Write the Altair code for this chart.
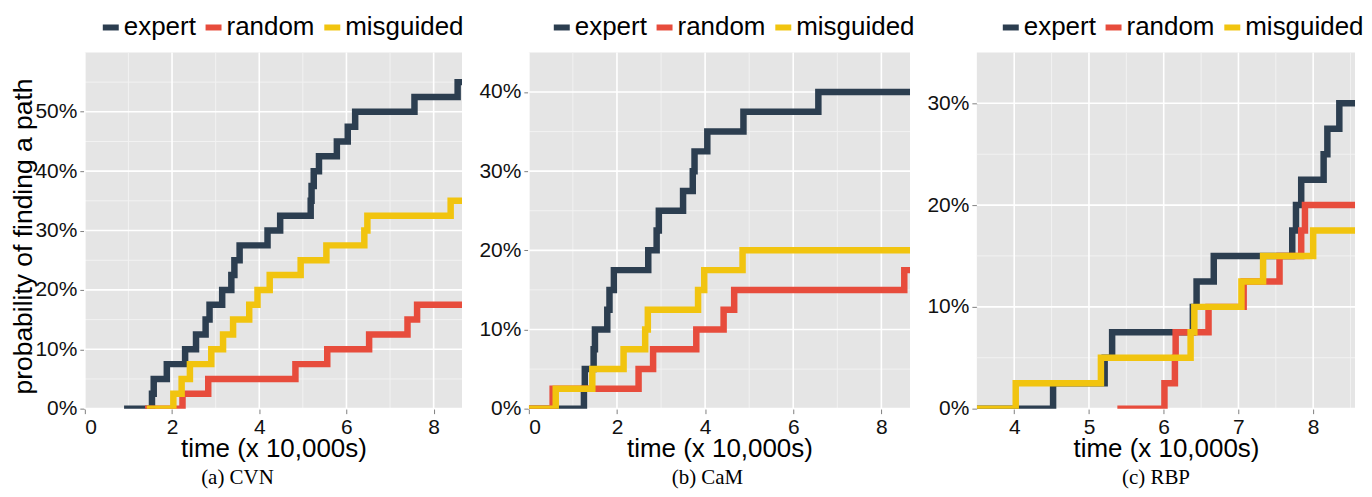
import altair as alt
import pandas as pd

SERIES = ["expert", "random", "misguided"]
COLORS = ["#2C3E50", "#E74C3C", "#F1C40F"]
XTITLE = "time (x 10,000s)"
YTITLE = "probability of finding a path"

# ---- (a) CVN ----
cvn_expert_t = [0.9, 1.54, 1.58, 1.88, 2.30, 2.55, 2.77, 2.86, 3.15, 3.36, 3.43, 3.55, 4.19, 4.48,
                5.18, 5.20, 5.25, 5.37, 5.78, 6.03, 6.20, 7.56, 8.55, 8.7]
cvn_expert_p = [0, 2.5, 5, 7.5, 10, 12.5, 15, 17.5, 20, 22.5, 25, 27.5, 30, 32.5,
                35, 37.5, 40, 42.5, 45, 47.5, 50, 52.5, 55, 55]
cvn_random_t = [1.38, 2.24, 2.83, 4.83, 5.56, 6.52, 7.40, 7.62, 8.7]
cvn_random_p = [0, 2.5, 5, 7.5, 10, 12.5, 15, 17.5, 17.5]
cvn_misguided_t = [1.42, 2.03, 2.22, 2.41, 2.90, 3.17, 3.40, 3.77, 3.96, 4.24, 4.95, 5.54, 6.41, 6.48, 8.39, 8.7]
cvn_misguided_p = [0, 2.5, 5, 7.5, 10, 12.5, 15, 17.5, 20, 22.5, 25, 27.5, 30, 32.5, 35, 35]

# ---- (b) CaM ----
cam_expert_t = [0, 1.25, 1.27, 1.47, 1.50, 1.78, 1.83, 1.93, 2.71, 2.90, 2.95, 3.50, 3.72, 3.76,
                4.05, 4.87, 6.57, 8.7]
cam_expert_p = [0, 2.5, 5, 7.5, 10, 12.5, 15, 17.5, 20, 22.5, 25, 27.5, 30, 32.5, 35, 37.5, 40, 40]
cam_random_t = [0, 0.54, 2.49, 2.82, 3.80, 4.42, 4.66, 8.52, 8.7]
cam_random_p = [0, 2.5, 5, 7.5, 10, 12.5, 15, 17.5, 17.5]
cam_misguided_t = [0, 0.61, 1.44, 2.15, 2.64, 2.70, 3.84, 3.98, 4.85, 8.7]
cam_misguided_p = [0, 2.5, 5, 7.5, 10, 12.5, 15, 17.5, 20, 20]

# ---- (c) RBP ----
rbp_expert_t = [3.5, 4.52, 5.21, 5.31, 6.39, 6.44, 6.67, 7.72, 7.77, 7.84, 8.14, 8.19, 8.35, 8.7]
rbp_expert_p = [0, 2.5, 5, 7.5, 10, 12.5, 15, 17.5, 20, 22.5, 25, 27.5, 30, 30]
rbp_random_t = [5.38, 6.01, 6.15, 6.16, 6.60, 7.07, 7.55, 7.84, 7.89, 8.7]
rbp_random_p = [0, 2.5, 5, 7.5, 10, 12.5, 15, 17.5, 20, 20]
rbp_misguided_t = [3.5, 4.02, 5.16, 6.36, 6.41, 7.04, 7.33, 8.00, 8.7]
rbp_misguided_p = [0, 2.5, 5, 7.5, 10, 12.5, 15, 17.5, 17.5]

FONT = "Liberation Sans"


def make_df(ts, ps):
    rows = []
    for k, (name, t, p) in enumerate(zip(SERIES, ts, ps)):
        for ti, pi in zip(t, p):
            rows.append({"series": name, "k": k, "time": ti, "prob": pi / 100.0})
    return pd.DataFrame(rows)


def panel(df, xdom, ydom, xmajor, xminor, ymajor, yminor, width, height,
          caption, cap_dx, leg_x, ytitle=False):
    xs = alt.Scale(domain=xdom, nice=False, zero=False)
    ys = alt.Scale(domain=ydom, nice=False, zero=False)

    yaxis_kw = dict(
        values=ymajor, format=".0%", grid=False, domain=False,
        labelFont=FONT, labelFontSize=21, labelColor="#111111", labelPadding=3,
        tickColor="#7F7F7F", tickSize=5, tickWidth=1,
    )
    if ytitle:
        yaxis_kw.update(title=YTITLE, titleFont=FONT, titleFontSize=26.5, titleFontWeight="normal",
                        titleColor="#000000", titleX=-53, titleY=184, titleBaseline="alphabetic")
    else:
        yaxis_kw.update(title=None)

    xenc = alt.X("time:Q", scale=xs, axis=alt.Axis(
        values=xmajor, format="d", grid=False, domain=False, title=XTITLE,
        labelFont=FONT, labelFontSize=21, labelColor="#111111", labelPadding=2.5,
        tickColor="#7F7F7F", tickSize=5, tickWidth=1,
        titleFont=FONT, titleFontSize=26, titleFontWeight="normal", titleColor="#000000",
        titleY=47.5, titleBaseline="alphabetic"))
    yenc = alt.Y("prob:Q", scale=ys, axis=alt.Axis(**yaxis_kw))

    def vrule(vals, color, w):
        return alt.Chart(pd.DataFrame({"time": vals})).mark_rule(color=color, strokeWidth=w).encode(
            x=xenc)

    def hrule(vals, color, w):
        return alt.Chart(pd.DataFrame({"prob": vals})).mark_rule(color=color, strokeWidth=w).encode(
            y=yenc)

    lines = alt.Chart(df).mark_line(interpolate="step-after", strokeWidth=6.5, clip=True).encode(
        x=xenc,
        y=yenc,
        color=alt.Color("series:N", scale=alt.Scale(domain=SERIES, range=COLORS),
                        legend=alt.Legend(orient="none", legendX=leg_x, legendY=-38,
                                          direction="horizontal", title=None,
                                          symbolType="stroke", symbolSize=256,
                                          symbolStrokeWidth=6, labelOffset=0,
                                          columnPadding=-3, padding=0,
                                          labelFont=FONT, labelFontSize=26,
                                          labelColor="#000000", labelLimit=400)),
        order=alt.Order("k:Q"),
    )

    return alt.layer(
        vrule(xminor, "#F2F2F2", 1),
        hrule(yminor, "#F2F2F2", 1),
        vrule(xmajor, "#FFFFFF", 1.6),
        hrule(ymajor, "#FFFFFF", 1.6),
        lines,
    ).properties(
        width=width, height=height,
        title=alt.TitleParams(caption, orient="bottom", anchor="middle", frame="group",
                              dx=cap_dx, offset=6, font="Liberation Serif",
                              fontSize=21, fontWeight="normal", color="#000000"),
    )


p1 = panel(make_df([cvn_expert_t, cvn_random_t, cvn_misguided_t],
                   [cvn_expert_p, cvn_random_p, cvn_misguided_p]),
           [0, 8.65], [0, 0.60], [0, 2, 4, 6, 8], [1, 3, 5, 7],
           [0, 0.1, 0.2, 0.3, 0.4, 0.5], [0.05, 0.15, 0.25, 0.35, 0.45, 0.55],
           378, 357, "(a) CVN", -36, 13, ytitle=True)
p2 = panel(make_df([cam_expert_t, cam_random_t, cam_misguided_t],
                   [cam_expert_p, cam_random_p, cam_misguided_p]),
           [0, 8.65], [0, 0.45], [0, 2, 4, 6, 8], [1, 3, 5, 7],
           [0, 0.1, 0.2, 0.3, 0.4], [0.05, 0.15, 0.25, 0.35],
           382, 357, "(b) CaM", -12, 20)
p3 = panel(make_df([rbp_expert_t, rbp_random_t, rbp_misguided_t],
                   [rbp_expert_p, rbp_random_p, rbp_misguided_p]),
           [3.5, 8.56], [0, 0.35], [4, 5, 6, 7, 8], [4.5, 5.5, 6.5, 7.5, 8.5],
           [0, 0.1, 0.2, 0.3], [0.05, 0.15, 0.25],
           379, 357, "(c) RBP", -10, 21)

chart = alt.hconcat(p1, p2, p3, spacing=67, bounds="flush").resolve_scale(
    x="independent", y="independent", color="independent"
).resolve_legend(color="independent").properties(
    padding={"left": 3, "top": 6, "right": 0, "bottom": 0}
).configure_view(fill="#E5E5E5", strokeWidth=0)

chart.save("out.html", embed_options={"renderer": "svg", "actions": False})
